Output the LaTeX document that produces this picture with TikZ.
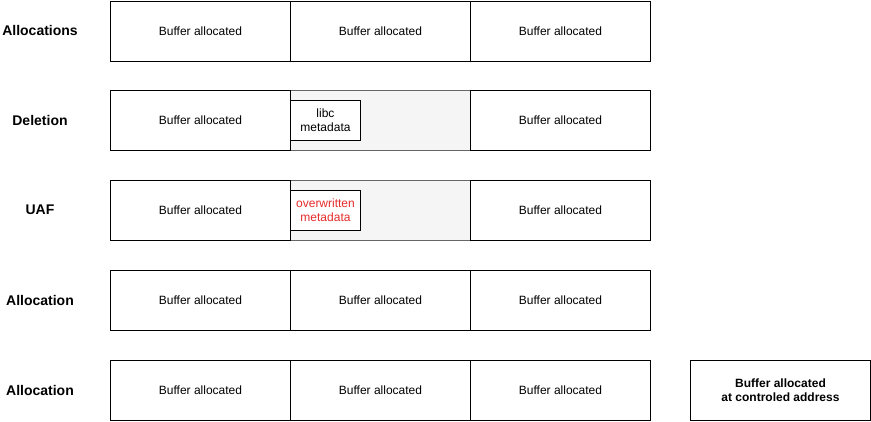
\documentclass[tikz,border=0pt]{standalone}
\usepackage{fontspec}
\setmainfont{Liberation Sans}
\definecolor{freefill}{HTML}{F5F5F5}
\definecolor{freedraw}{HTML}{666666}
\definecolor{redtxt}{HTML}{E52B2B}
\begin{document}
\begin{tikzpicture}[x=1pt,y=-1pt,
  buf/.style={draw=black,line width=1pt,fill=white,minimum width=180pt,minimum height=60pt,inner sep=0pt,anchor=north west,font=\fontsize{12}{14}\selectfont,align=center},
  freed/.style={draw=freedraw,line width=1pt,fill=freefill,minimum width=180pt,minimum height=60pt,inner sep=0pt,anchor=north west},
  meta/.style={draw=black,line width=1pt,fill=white,minimum width=70pt,minimum height=40pt,inner sep=0pt,anchor=north west,font=\fontsize{12}{14}\selectfont,align=center},
  lbl/.style={font=\bfseries\fontsize{14}{16}\selectfont,anchor=center}]
\useasboundingbox (0,0) rectangle (871,421);
% row 1
\node[lbl] (l1) at (40,30) {Allocations};
\node[buf] (a1) at (110,0.5) {Buffer allocated};
\node[buf] (a2) at (290,0.5) {Buffer allocated};
\node[buf] (a3) at (470,0.5) {Buffer allocated};
% row 2
\node[lbl] (l2) at (40,120) {Deletion};
\node[freed] (d2) at (290,90) {};
\node[buf] (d1) at (110,90) {Buffer allocated};
\node[buf] (d3) at (470,90) {Buffer allocated};
\node[meta] (m2) at (290,100) {libc\\metadata};
% row 3
\node[lbl] (l3) at (40,210) {UAF};
\node[freed] (u2) at (290,180) {};
\node[buf] (u1) at (110,180) {Buffer allocated};
\node[buf] (u3) at (470,180) {Buffer allocated};
\node[meta,text=redtxt] (m3) at (290,190) {overwritten\\metadata};
% row 4
\node[lbl] (l4) at (40,300) {Allocation};
\node[buf] (b1) at (110,270) {Buffer allocated};
\node[buf] (b2) at (290,270) {Buffer allocated};
\node[buf] (b3) at (470,270) {Buffer allocated};
% row 5
\node[lbl] (l5) at (40,390) {Allocation};
\node[buf] (c1) at (110,360) {Buffer allocated};
\node[buf] (c2) at (290,360) {Buffer allocated};
\node[buf] (c3) at (470,360) {Buffer allocated};
\node[buf,font=\bfseries\fontsize{12}{14}\selectfont] (c4) at (690,360) {Buffer allocated\\at controled address};
\end{tikzpicture}
\end{document}
